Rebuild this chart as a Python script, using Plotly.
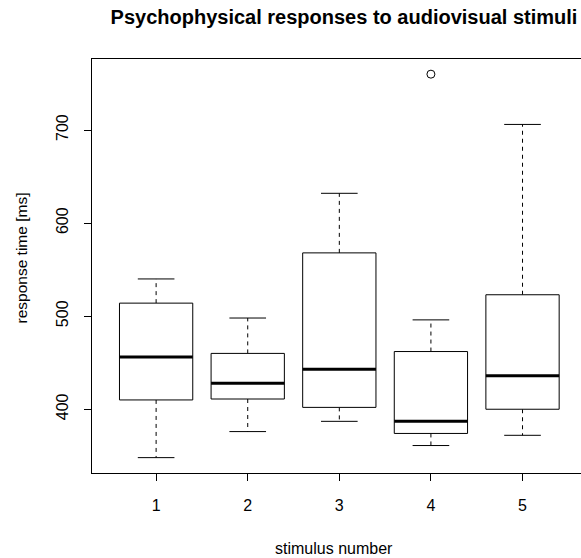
import plotly.graph_objects as go

stimulus = [1, 2, 3, 4, 5]
lower_whisker = [348, 376, 387, 361, 372]
q1 = [410, 411, 402, 374, 400]
median = [456, 428, 443, 387, 436]
q3 = [514, 460, 568, 462, 523]
upper_whisker = [540, 498, 632, 496, 706]
outlier_x = [4]
outlier_y = [760]
y_ticks = [400, 500, 600, 700]

half_box = 0.4
half_cap = 0.2

bx, by = [], []
mx, my = [], []
wx, wy = [], []
cx, cy = [], []
for s, lo, a, m, b, hi in zip(stimulus, lower_whisker, q1, median, q3, upper_whisker):
    bx += [s - half_box, s + half_box, s + half_box, s - half_box, s - half_box, None]
    by += [a, a, b, b, a, None]
    mx += [s - half_box, s + half_box, None]
    my += [m, m, None]
    wx += [s, s, None, s, s, None]
    wy += [b, hi, None, a, lo, None]
    cx += [s - half_cap, s + half_cap, None, s - half_cap, s + half_cap, None]
    cy += [hi, hi, None, lo, lo, None]

fig = go.Figure()
fig.add_trace(go.Scatter(x=wx, y=wy, mode="lines", line=dict(color="black", width=1, dash="4px,4px"), hoverinfo="skip"))
fig.add_trace(go.Scatter(x=cx, y=cy, mode="lines", line=dict(color="black", width=1), hoverinfo="skip"))
fig.add_trace(go.Scatter(x=bx, y=by, mode="lines", fill="toself", fillcolor="white", line=dict(color="black", width=1), hoverinfo="skip"))
fig.add_trace(go.Scatter(x=mx, y=my, mode="lines", line=dict(color="black", width=3), hoverinfo="skip"))
fig.add_trace(go.Scatter(x=outlier_x, y=outlier_y, mode="markers",
                         marker=dict(symbol="circle-open", size=8, color="black", line=dict(width=1)), hoverinfo="skip"))

font = "Liberation Sans, Arial, Helvetica, sans-serif"

W, H = 581, 558

fig.update_layout(
    width=W, height=H,
    margin=dict(l=92, r=0, t=59, b=85, pad=0),
    paper_bgcolor="white", plot_bgcolor="white",
    showlegend=False,
    font=dict(family=font, size=16, color="black"),
    title=dict(text="<b>Psychophysical responses to audiovisual stimuli</b>",
               font=dict(family=font, size=20, color="black"),
               x=344 / W, xref="container", xanchor="center",
               y=1 - 17 / H, yref="container", yanchor="middle"),
    xaxis=dict(range=[0.3, 0.3 + 489 / 91.6], tickvals=stimulus, ticktext=[str(s) for s in stimulus],
               showline=True, linecolor="black", linewidth=1, mirror=True,
               ticks="outside", ticklen=7, tickcolor="black", tickwidth=1,
               showgrid=False, zeroline=False, ticklabelstandoff=11,
               tickfont=dict(family=font, size=16, color="black")),
    yaxis=dict(range=[331.5, 776.3], tickvals=y_ticks, ticktext=[str(v) for v in y_ticks],
               showline=True, linecolor="black", linewidth=1, mirror=False,
               ticks="outside", ticklen=7, tickcolor="black", tickwidth=1,
               showgrid=False, zeroline=False, tickangle=-90, ticklabelstandoff=10,
               tickfont=dict(family=font, size=16, color="black")),
    annotations=[
        dict(text="stimulus number", xref="paper", yref="paper",
             x=(334 - 92) / 489, y=-(548 - 472.7) / 414, xanchor="center", yanchor="middle",
             showarrow=False, font=dict(family=font, size=16, color="black")),
        dict(text="response time [ms]", xref="paper", yref="paper", textangle=-90,
             x=(21 - 92) / 489, y=1 - (258.5 - 59) / 414, xanchor="center", yanchor="middle",
             showarrow=False, font=dict(family=font, size=15.5, color="black")),
    ],
)

fig.write_html("out.html",
               config={"displayModeBar": False},
               post_script="document.body.style.margin='0px';document.body.style.overflow='hidden';")
